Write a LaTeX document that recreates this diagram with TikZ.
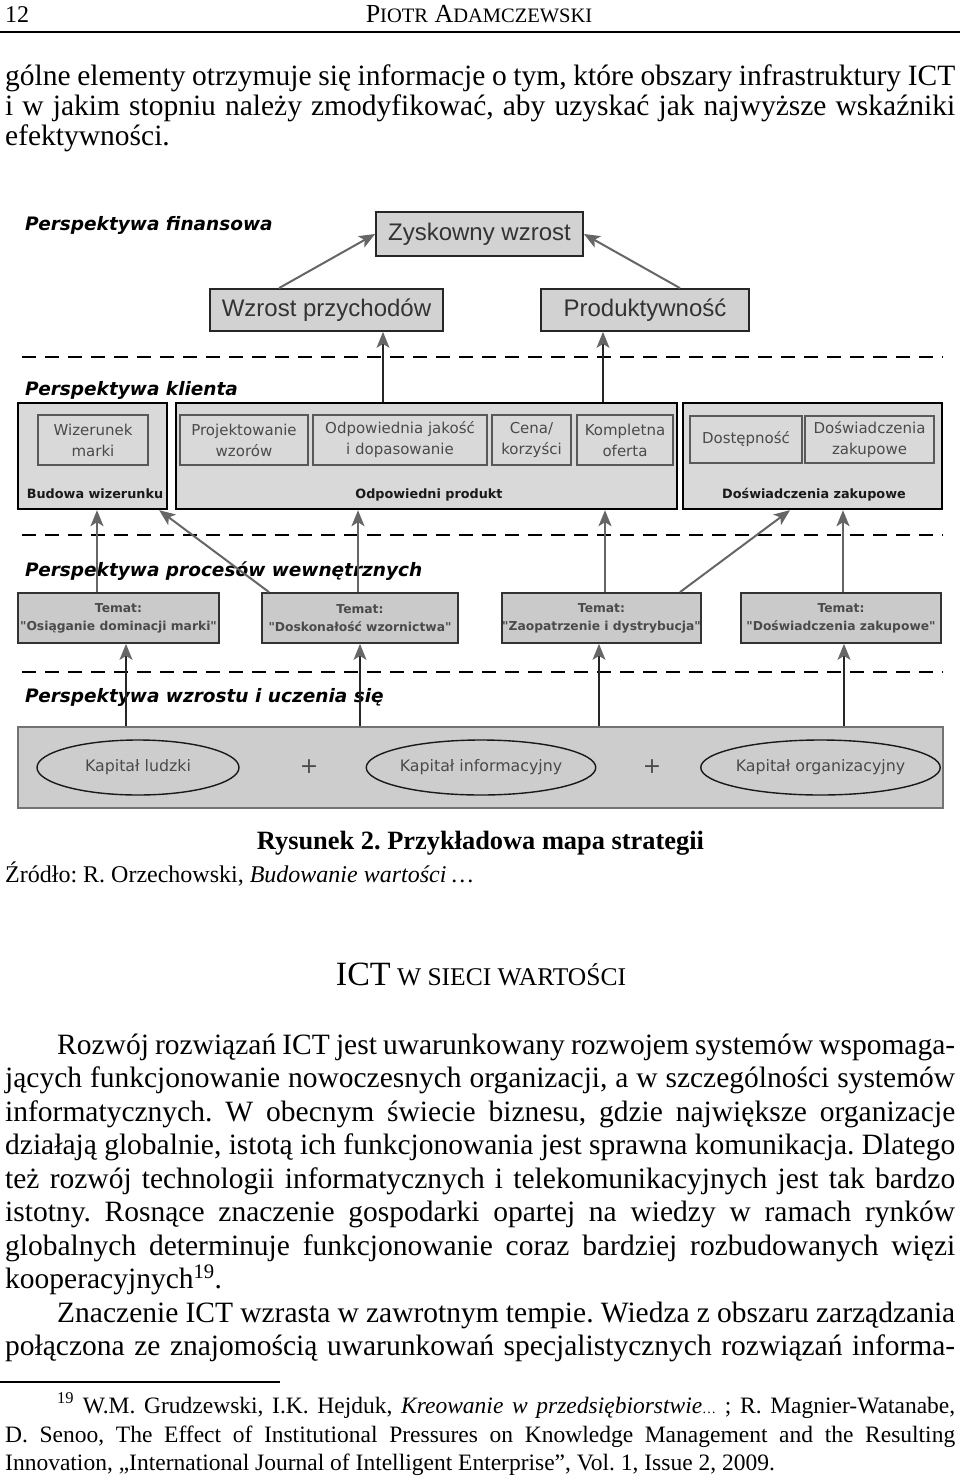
\documentclass[tikz,border=0pt]{standalone}
\usepackage{fontspec}
\setmainfont{Liberation Serif}
\newfontfamily\dsans{DejaVu Sans}
\newfontfamily\lsans{Liberation Sans}
\usetikzlibrary{arrows.meta,shapes.geometric}
\frenchspacing
\definecolor{boxfill}{HTML}{D2D2D2}
\definecolor{innerfill}{HTML}{D9D9D9}
\definecolor{procfill}{HTML}{CACACA}
\definecolor{lbfill}{HTML}{CDCDCD}
\definecolor{arrowgray}{HTML}{666666}
\definecolor{txtgray}{HTML}{4A4A4A}
\tikzset{
  finbox/.style={draw=black!85, line width=1.8pt, fill=boxfill, inner sep=0pt,
    font=\lsans\fontsize{24}{28}\selectfont, text=black!80},
  clientbox/.style={draw=black, line width=2.4pt, fill=innerfill, inner sep=0pt},
  innerbox/.style={draw=black!65, line width=1.4pt, fill=innerfill, inner sep=0pt,
    align=center, font=\dsans\fontsize{15}{21}\selectfont, text=txtgray},
  clabel/.style={inner sep=0pt, anchor=base, font=\dsans\bfseries\fontsize{12.8}{14}\selectfont, text=black!90},
  procbox/.style={draw=black!80, line width=1.8pt, fill=procfill, inner sep=0pt,
    align=center, font=\dsans\bfseries\fontsize{12.3}{18}\selectfont, text=txtgray},
  lbox/.style={draw=black!55, line width=2pt, fill=lbfill, inner sep=0pt},
  capell/.style={ellipse, draw=black!90, line width=1.4pt, fill=lbfill, inner sep=0pt,
    font=\dsans\fontsize{15.8}{18}\selectfont, text=txtgray},
  persp/.style={inner sep=0pt, anchor=base west, font=\dsans\bfseries\itshape\fontsize{18.5}{22}\selectfont},
  sepline/.style={draw=black, line width=2pt, dash pattern=on 14pt off 9pt},
  thinarr/.style={draw=black!85, line width=1.1pt,
    -{Stealth[length=16pt,width=13pt,inset=4pt,color=arrowgray]}},
  grayarr/.style={draw=arrowgray, line width=2pt,
    -{Stealth[length=16pt,width=13pt,inset=4pt,color=arrowgray]}},
  bodyline/.style={inner sep=0pt, anchor=base west, font=\fontsize{29.5}{33}\selectfont},
  footline/.style={inner sep=0pt, anchor=base west, font=\fontsize{23.5}{26}\selectfont},
}
\begin{document}
\begin{tikzpicture}[x=1pt,y=-1pt]
\useasboundingbox (0,0) rectangle (960,1481);
\fill[white] (0,0) rectangle (960,1481);

% ---------- header ----------
\node[inner sep=0pt, anchor=base west, font=\fontsize{24}{26}\selectfont] (pagenum) at (5,22) {12};
\node[inner sep=0pt, anchor=base, font=\fontsize{26}{28}\selectfont] (runhead) at (479,22)
  {P{\fontsize{20.5}{22}\selectfont IOTR} A{\fontsize{20.5}{22}\selectfont DAMCZEWSKI}};
\draw[line width=1.8pt] (0,32) -- (960,32);

% ---------- first paragraph ----------
\node[bodyline] (a1) at (5,85) {\makebox[950pt][s]{gólne elementy otrzymuje się informacje o tym, które obszary infrastruktury ICT}};
\node[bodyline] (a2) at (5,115) {\makebox[950pt][s]{i w jakim stopniu należy zmodyfikować, aby uzyskać jak najwyższe wskaźniki}};
\node[bodyline] (a3) at (5,145) {efektywności.};

% ---------- diagram ----------
\node[persp] (hfin) at (25,230) {Perspektywa finansowa};
\node[persp] (hkl) at (25,395) {Perspektywa klienta};
\node[persp] (hpr) at (25,576) {Perspektywa procesów wewnętrznych};
\node[persp] (hwz) at (25,702) {Perspektywa wzrostu i uczenia się};

\draw[sepline] (22,357) -- (943,357);
\draw[sepline] (22,535) -- (943,535);
\draw[sepline] (22,672) -- (943,672);

\node[finbox, minimum width=207pt, minimum height=44pt] (zysk) at (479.5,234) {Zyskowny wzrost};
\node[finbox, minimum width=233pt, minimum height=42pt] (przych) at (326.5,310) {Wzrost przychodów};
\node[finbox, minimum width=208pt, minimum height=42pt] (produkt) at (645,310) {Produktywność};

\node[clientbox, minimum width=149pt, minimum height=106pt] (cA) at (92.5,456) {};
\node[clientbox, minimum width=501pt, minimum height=106pt] (cB) at (426.5,456) {};
\node[clientbox, minimum width=259pt, minimum height=106pt] (cC) at (812.5,456) {};

\node[innerbox, minimum width=110pt, minimum height=50pt] (wiz) at (93,440) {Wizerunek\\marki};
\node[innerbox, minimum width=128pt, minimum height=50pt] (proj) at (244,440) {Projektowanie\\wzorów};
\node[innerbox, minimum width=174pt, minimum height=50pt] (jak) at (400,440) {Odpowiednia jakość\\i dopasowanie};
\node[innerbox, minimum width=79pt, minimum height=50pt] (cena) at (531.5,440) {Cena/\\korzyści};
\node[innerbox, minimum width=96pt, minimum height=50pt] (komp) at (625,440) {Kompletna\\oferta};
\node[innerbox, minimum width=112pt, minimum height=47pt] (dost) at (746,439.5) {Dostępność};
\node[innerbox, minimum width=129pt, minimum height=47pt] (dosw) at (869.5,439.5) {Doświadczenia\\zakupowe};

\node[clabel] (lA) at (95,498) {Budowa wizerunku};
\node[clabel] (lB) at (429,498) {Odpowiedni produkt};
\node[clabel] (lC) at (814,498) {Doświadczenia zakupowe};

\node[procbox, minimum width=201pt, minimum height=50pt] (p1) at (118.5,618) {Temat:\\"Osiąganie dominacji marki"};
\node[procbox, minimum width=196pt, minimum height=50pt] (p2) at (360,618) {Temat:\\"Doskonałość wzornictwa"};
\node[procbox, minimum width=197pt, minimum height=50pt] (p3) at (601.5,618) {Temat:\\"Zaopatrzenie i dystrybucja"};
\node[procbox, minimum width=200pt, minimum height=50pt] (p4) at (841,618) {Temat:\\"Doświadczenia zakupowe"};

\node[lbox, minimum width=925pt, minimum height=81pt] (lb) at (480.5,767.5) {};
\node[capell, minimum width=202pt, minimum height=55pt] (e1) at (138,767.5) {Kapitał ludzki};
\node[capell, minimum width=208pt, minimum height=55pt] (e2) at (481,767.5) {Kapitał informacyjny};
\node[capell, minimum width=205pt, minimum height=55pt] (e3) at (820.5,767.5) {Kapitał organizacyjny};
\node[inner sep=0pt, font=\dsans\fontsize{22}{22}\selectfont, text=txtgray] (plus1) at (309,767) {+};
\node[inner sep=0pt, font=\dsans\fontsize{22}{22}\selectfont, text=txtgray] (plus2) at (652,767) {+};

\draw[grayarr] ([xshift=-47.5pt]przych.north) -- (zysk.west);
\draw[grayarr] ([xshift=35pt]produkt.north) -- (zysk.east);
\draw[thinarr] ([xshift=-43.5pt]cB.north) -- ([xshift=56.5pt]przych.south);
\draw[thinarr] ([xshift=176.5pt]cB.north) -- ([xshift=-42pt]produkt.south);

\draw[grayarr] ([xshift=-21.5pt]p1.north) -- ([xshift=4.5pt]cA.south);
\draw[grayarr] ([xshift=-91pt]p2.north) -- ([xshift=-9pt]cA.south east);
\draw[grayarr] ([xshift=-2pt]p2.north) -- ([xshift=-68.5pt]cB.south);
\draw[grayarr] ([xshift=3.5pt]p3.north) -- ([xshift=178.5pt]cB.south);
\draw[grayarr] ([xshift=78.5pt]p3.north) -- ([xshift=-22.5pt]cC.south);
\draw[grayarr] ([xshift=2pt]p4.north) -- ([xshift=30.5pt]cC.south);

\draw[thinarr] ([xshift=-354.5pt]lb.north) -- ([xshift=7.5pt]p1.south);
\draw[thinarr] ([xshift=-120.5pt]lb.north) -- (p2.south);
\draw[thinarr] ([xshift=118.5pt]lb.north) -- ([xshift=-2.5pt]p3.south);
\draw[thinarr] ([xshift=363.5pt]lb.north) -- ([xshift=3pt]p4.south);

% ---------- caption ----------
\node[inner sep=0pt, anchor=base, font=\bfseries\fontsize{26.4}{29}\selectfont] (cap) at (480.5,849) {Rysunek 2. Przykładowa mapa strategii};
\node[inner sep=0pt, anchor=base west, font=\fontsize{24}{27}\selectfont] (src) at (5,882) {Źródło: R. Orzechowski, \textit{Budowanie wartości}\,…};

\node[inner sep=0pt, anchor=base] (sect) at (481,985) {{\fontsize{34}{36}\selectfont ICT}{\fontsize{25.5}{28}\selectfont\ W SIECI WARTOŚCI}};

% ---------- second paragraph ----------
\node[bodyline] (b1) at (57,1054) {\makebox[898pt][s]{Rozwój rozwiązań ICT jest uwarunkowany rozwojem systemów wspomaga-}};
\node[bodyline] (b2) at (5,1087) {\makebox[950pt][s]{jących funkcjonowanie nowoczesnych organizacji, a w szczególności systemów}};
\node[bodyline] (b3) at (5,1121) {\makebox[950pt][s]{informatycznych. W obecnym świecie biznesu, gdzie największe organizacje}};
\node[bodyline] (b4) at (5,1154) {\makebox[950pt][s]{działają globalnie, istotą ich funkcjonowania jest sprawna komunikacja. Dlatego}};
\node[bodyline] (b5) at (5,1188) {\makebox[950pt][s]{też rozwój technologii informatycznych i telekomunikacyjnych jest tak bardzo}};
\node[bodyline] (b6) at (5,1221) {\makebox[950pt][s]{istotny. Rosnące znaczenie gospodarki opartej na wiedzy w ramach rynków}};
\node[bodyline] (b7) at (5,1255) {\makebox[950pt][s]{globalnych determinuje funkcjonowanie coraz bardziej rozbudowanych więzi}};
\node[bodyline] (b8) at (5,1288) {kooperacyjnych\textsuperscript{19}.};
\node[bodyline] (b9) at (57,1322) {\makebox[898pt][s]{Znaczenie ICT wzrasta w zawrotnym tempie. Wiedza z obszaru zarządzania}};
\node[bodyline] (b10) at (5,1355) {\makebox[950pt][s]{połączona ze znajomością uwarunkowań specjalistycznych rozwiązań informa-}};

% ---------- footnote ----------
\draw[line width=1.5pt] (0,1382) -- (280,1382);
\node[footline] (f1) at (57,1413) {\makebox[898pt][s]{\textsuperscript{19} W.M. Grudzewski, I.K. Hejduk, \textit{Kreowanie w przedsiębiorstwie}{\fontsize{14}{15}\selectfont …} ; R. Magnier-Watanabe,}};
\node[footline] (f2) at (5,1442) {\makebox[950pt][s]{D. Senoo, The Effect of Institutional Pressures on Knowledge Management and the Resulting}};
\node[footline] (f3) at (5,1470) {Innovation, „International Journal of Intelligent Enterprise”, Vol. 1, Issue 2, 2009.};
\end{tikzpicture}
\end{document}
